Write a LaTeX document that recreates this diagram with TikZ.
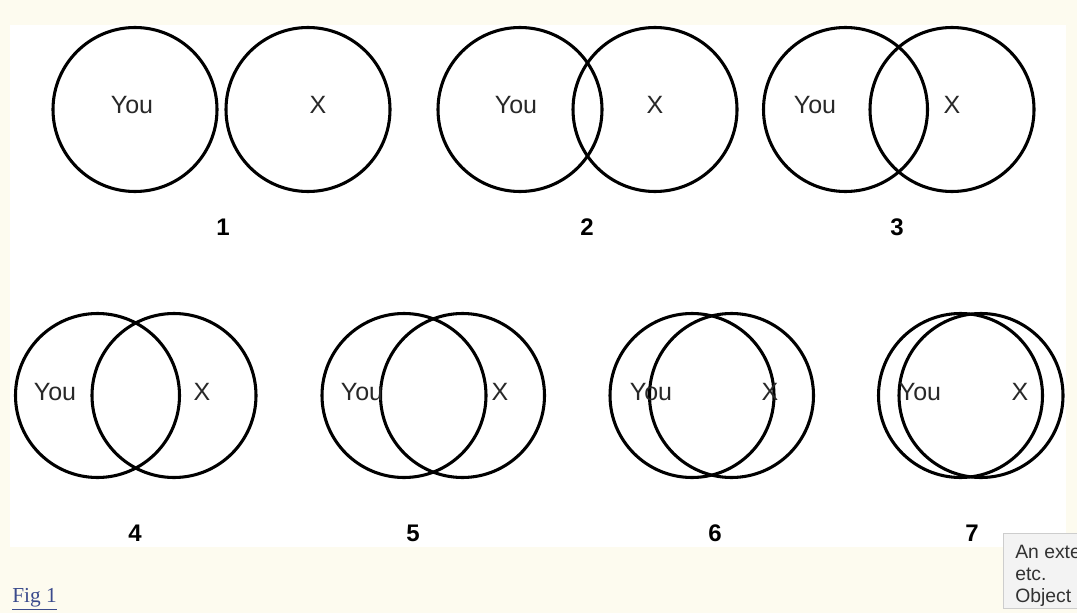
\documentclass[tikz,border=0pt]{standalone}
\usepackage{fontspec}
\setmainfont{Liberation Serif}
\setsansfont{Liberation Sans}
\definecolor{cream}{RGB}{253,251,239}
\definecolor{labelgray}{RGB}{40,40,40}
\definecolor{tipfill}{RGB}{243,243,243}
\definecolor{tipdraw}{RGB}{205,205,205}
\definecolor{tiptext}{RGB}{50,50,50}
\definecolor{linkblue}{RGB}{58,74,140}
\newcommand\lblfont{\sffamily\fontsize{18.75}{22}\selectfont}
\newcommand\numfont{\sffamily\bfseries\fontsize{18}{21}\selectfont}
\newcommand\tipfont{\sffamily\fontsize{14.5}{17}\selectfont}
\newcommand\figfont{\rmfamily\fontsize{16}{19}\selectfont}
\tikzset{
  venn/.style={circle, draw=black, line width=2.3pt, minimum size=123pt, inner sep=0pt},
  lbl/.style={font=\lblfont, text=labelgray, inner sep=0pt},
  num/.style={font=\numfont, text=black, inner sep=0pt},
  tiptxt/.style={font=\tipfont, text=tiptext, inner sep=0pt, anchor=base west},
}
\begin{document}
\begin{tikzpicture}[x=0.75pt, y=-0.75pt]
\useasboundingbox (0,0) rectangle (1077,613);
\fill[cream] (0,0) rectangle (1077,613);
\fill[white] (10,25) rectangle (1066,547);

% row 1
\node[venn] (c1a) at (135,109.5) {};
\node[venn] (c1b) at (308,109.5) {};
\node[lbl] (l1a) at (132,105) {You};
\node[lbl] (l1b) at (318,105) {X};
\node[num] (n1) at (223,227) {1};

\node[venn] (c2a) at (520,109.5) {};
\node[venn] (c2b) at (655,109.5) {};
\node[lbl] (l2a) at (516,105) {You};
\node[lbl] (l2b) at (655,105) {X};
\node[num] (n2) at (587,227) {2};

\node[venn] (c3a) at (845.5,109.5) {};
\node[venn] (c3b) at (952,109.5) {};
\node[lbl] (l3a) at (815,105) {You};
\node[lbl] (l3b) at (952,105) {X};
\node[num] (n3) at (897,227) {3};

% row 2
\node[venn] (c4a) at (97.5,395.5) {};
\node[venn] (c4b) at (174,395.5) {};
\node[lbl] (l4a) at (55,392) {You};
\node[lbl] (l4b) at (202,392) {X};
\node[num] (n4) at (135,533) {4};

\node[venn] (c5a) at (404,395.5) {};
\node[venn] (c5b) at (462.5,395.5) {};
\node[lbl] (l5a) at (362,392) {You};
\node[lbl] (l5b) at (500,392) {X};
\node[num] (n5) at (413,533) {5};

\node[venn] (c6a) at (692,395.5) {};
\node[venn] (c6b) at (731.5,395.5) {};
\node[lbl] (l6a) at (651,392) {You};
\node[lbl] (l6b) at (770,392) {X};
\node[num] (n6) at (715,533) {6};

\node[venn] (c7a) at (960.5,395.5) {};
\node[venn] (c7b) at (981,395.5) {};
\node[lbl] (l7a) at (920,392) {You};
\node[lbl] (l7b) at (1020,392) {X};
\node[num] (n7) at (972,533) {7};

% caption link
\node[font=\figfont, text=linkblue, inner sep=0pt, anchor=west] (fig) at (12,599) {\underline{Fig 1}};

% tooltip
\begin{scope}
\clip (0,0) rectangle (1077,613);
\filldraw[fill=tipfill, draw=tipdraw, line width=0.75pt] (1003,533) rectangle (1095,608);
\node[tiptxt] (t1) at (1015,558) {An exte};
\node[tiptxt] (t2) at (1015,580) {etc.};
\node[tiptxt] (t3) at (1015,602) {Object};
\end{scope}
\end{tikzpicture}
\end{document}
